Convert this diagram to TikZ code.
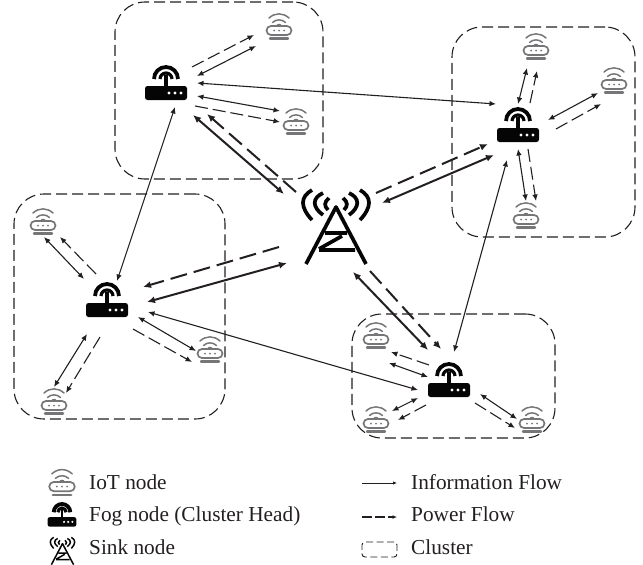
\documentclass[tikz,border=0pt]{standalone}
\usepackage{fontspec}
\setmainfont{Liberation Serif}
\usetikzlibrary{arrows.meta,positioning,calc}
\definecolor{ink}{HTML}{231F20}
\definecolor{iotgray}{HTML}{767678}
\tikzset{
  >={Latex[length=6.5pt,width=5.5pt]},
  info/.style={<->,ink,line width=1.1pt},
  power/.style={->,ink,line width=1.1pt,dash pattern=on 13pt off 5pt},
  infothick/.style={<->,ink,line width=2pt,>={Latex[length=8pt,width=7pt]}},
  powerthick/.style={->,ink,line width=2pt,dash pattern=on 17pt off 7pt,>={Latex[length=8pt,width=7pt]}},
  cluster/.style={draw=ink,line width=1.1pt,rounded corners=30pt,dash pattern=on 11pt off 5pt,inner sep=0pt},
  hub/.style={inner sep=0pt,minimum size=1pt},
  note/.style={font=\fontsize{21.3}{24}\selectfont,text=ink,inner sep=0pt,anchor=base west},
  pics/iot/.style={code={
    \draw[iotgray,line width=1.5pt,line cap=round] (-10,-9) .. controls (-4,-14.5) and (4,-14.5) .. (10,-9);
    \draw[iotgray,line width=1.5pt,line cap=round] (-6.5,-4.5) .. controls (-3,-8) and (3,-8) .. (6.5,-4.5);
    \fill[iotgray] (-3,-1) .. controls (-2,-4) and (2,-4) .. (3,-1) -- cycle;
    \draw[iotgray,line width=1.7pt,rounded corners=4.5pt] (-12.5,-1) rectangle (12.5,8);
    \draw[iotgray,line width=2.4pt,line cap=round] (-9,11.5) -- (9,11.5);
    \foreach \d in {-5,0,5}{\fill[iotgray] (\d,3.5) circle (1pt);}
  }},
  pics/fog/.style={code={
    \fill[black!85!ink,rounded corners=2.5pt] (-21,3) rectangle (21,17);
    \draw[black!85!ink,line width=3.8pt] (-12,-4) arc (180:360:12);
    \draw[black!85!ink,line width=3.2pt] (-6,-4) arc (180:360:6);
    \fill[black!85!ink] (-1.6,-8) rectangle (1.6,4);
    \foreach \d in {3,9,15}{\fill[white] (\d,10) circle (1.7pt);}
  }},
  pics/tower/.style={code={
    \draw[black!85!ink,line join=round] (-30,37) -- (0,-20) -- (30,37);
    \draw[black!85!ink] (-11,6) -- (11,6) (-17,23) -- (19,23) (-17,22) -- (6,9);
    \foreach \s in {-1,1}{
      \draw[black!85!ink] (\s*24,-7) .. controls (\s*36,-20) and (\s*36,-30) .. (\s*24,-37);
      \draw[black!85!ink] (\s*13,-12) .. controls (\s*24,-20) and (\s*24,-29) .. (\s*13,-34);
      \draw[black!85!ink] (\s*8,-17) .. controls (\s*12,-21) and (\s*12,-25) .. (\s*7,-29);
    }
  }}
}

\begin{document}
\begin{tikzpicture}[x=1pt,y=-1pt]
  \useasboundingbox (0,0) rectangle (643,565);

  % Clusters
  \node[cluster,minimum width=208pt,minimum height=177pt] (clusterA) at (219,90.5) {};
  \node[cluster,minimum width=183pt,minimum height=210pt] (clusterB) at (543.5,132) {};
  \node[cluster,minimum width=211pt,minimum height=225pt] (clusterC) at (119.5,306.5) {};
  \node[cluster,minimum width=203pt,minimum height=124pt] (clusterD) at (453.5,376) {};

  % Icons
  \foreach \n/\x/\y in {iotAa/279/27,iotAb/296/122,iotBa/536/47,iotBb/614/81,iotBc/526/216,
                        iotCa/43/222,iotCb/210/350,iotCc/54/402,iotDa/376/336,iotDb/376/420,iotDc/532/420}{
    \node[hub] (\n) at (\x,\y) {};
    \pic at (\n) {iot};
  }
  \foreach \n/\x/\y in {fogA/166/83,fogB/518/125,fogC/107/300,fogD/449/380}{
    \node[hub] (\n) at (\x,\y) {};
    \pic at (\n) {fog};
  }
  \node[hub] (sink) at (336,227) {};
  \pic[line width=3.7pt] at (sink) {tower};

  % Information flow
  \foreach \a/\ax/\ay/\b/\bx/\by in {
    fogA/31/-7/iotAa/-23/19, fogA/31/13/iotAb/-16/-11, fogA/31/0/fogB/-22/-21, fogA/9/24/fogC/10/-19,
    fogB/0/-21/iotBa/-9/21, fogB/30/-5/iotBb/-16/12, fogB/0/24/iotBc/0/-15, fogB/-11/35/fogD/5/-28,
    fogC/-23/-21/iotCa/1/15, fogC/31/17/iotCb/-14/1, fogC/-20/34/iotCc/0/-15, fogC/41/12/fogD/-31/10,
    fogD/-21/-3/iotDa/13/27, fogD/-31/18/iotDb/16/-9, fogD/31/14/iotDc/-15/-1}{
    \draw[info] ([shift={(\ax,\ay)}]\a.center) -- ([shift={(\bx,\by)}]\b.center);
  }
  % Power flow
  \foreach \a/\ax/\ay/\b/\bx/\by in {
    fogA/26/-16/iotAa/-25/8, fogA/29/23/iotAb/-16/0,
    fogB/12/-22/iotBa/1/24, fogB/38/4/iotBb/-13/23, fogB/10/24/iotBc/10/-15,
    fogC/-11/-26/iotCa/17/15, fogC/26/29/iotCb/-18/12, fogC/-7/37/iotCc/12/-9,
    fogD/-20/-15/iotDa/15/16, fogD/-23/25/iotDb/22/0, fogD/26/23/iotDc/-17/8}{
    \draw[power] ([shift={(\ax,\ay)}]\a.center) -- ([shift={(\bx,\by)}]\b.center);
  }
  % Sink links
  \foreach \b/\ax/\ay/\bx/\by in {fogA/-52/-33/27/32, fogB/46/-24/-24/30, fogC/-49/36/40/2, fogD/17/45/-21/-30}{
    \draw[infothick] ([shift={(\ax,\ay)}]sink.center) -- ([shift={(\bx,\by)}]\b.center);
  }
  \foreach \b/\ax/\ay/\bx/\by in {fogA/-40/-35/41/31, fogB/40/-34/-30/19, fogC/-57/20/36/-13, fogD/34/44/-8/-31}{
    \draw[powerthick] ([shift={(\ax,\ay)}]sink.center) -- ([shift={(\bx,\by)}]\b.center);
  }

  % Legend
  \node[hub] (keyIot) at (62,483) {};
  \pic[scale=1.02] at (keyIot) {iot};
  \node[hub] (keyFog) at (62,515) {};
  \pic[scale=.69] at (keyFog) {fog};
  \node[hub] (keySink) at (62.5,551) {};
  \pic[scale=.37,line width=1.5pt] at (keySink) {tower};
  \node[note] (labelIot) at (89,489) {IoT node};
  \node[note] (labelFog) at (89,521) {Fog node (Cluster Head)};
  \node[note] (labelSink) at (89,554) {Sink node};

  \coordinate (infoStart) at (362,483);
  \coordinate (infoEnd) at (397,483);
  \coordinate (powerStart) at (362,517);
  \coordinate (powerEnd) at (397,517);
  \draw[->,ink,line width=1pt,>={Latex[length=4pt,width=3.5pt]}] (infoStart) -- (infoEnd);
  \draw[->,ink,line width=1.8pt,dash pattern=on 10pt off 3pt,>={Latex[length=4.5pt,width=4pt]}] (powerStart) -- (powerEnd);
  \node[cluster,line width=.9pt,rounded corners=3pt,dash pattern=on 7pt off 3.5pt,minimum width=35pt,minimum height=15pt] (keyCluster) at (379.5,549.5) {};
  \node[note] (labelInfo) at (411,489) {Information Flow};
  \node[note] (labelPower) at (411,521) {Power Flow};
  \node[note] (labelCluster) at (411,554) {Cluster};
\end{tikzpicture}
\end{document}
